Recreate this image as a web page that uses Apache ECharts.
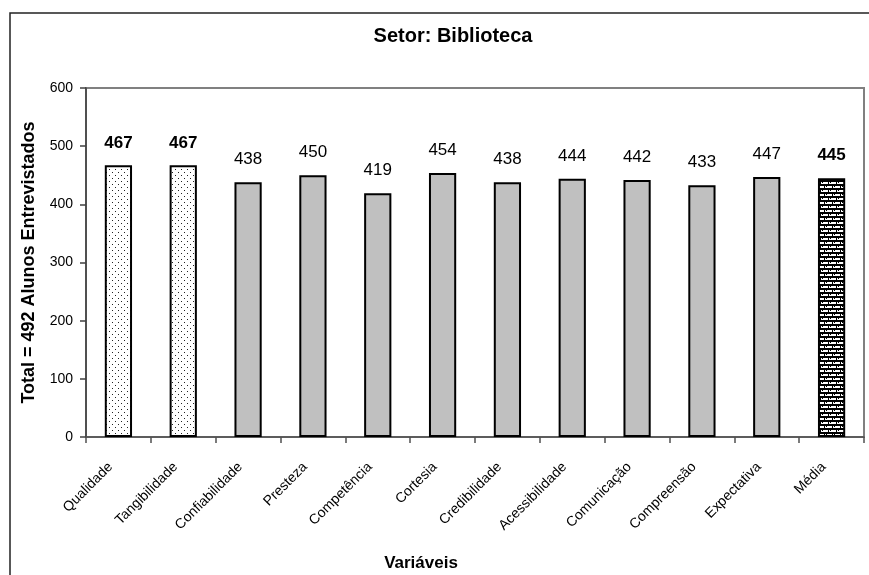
<!DOCTYPE html>
<html><head><meta charset="utf-8">
<script src="https://cdn.jsdelivr.net/npm/echarts@6/dist/echarts.min.js"></script>
<style>html,body{margin:0;padding:0;background:#fff}#c{width:869px;height:575px}</style>
</head><body><div id="c"></div>
<script>
const categories = ['Qualidade','Tangibilidade','Confiabilidade','Presteza','Competência','Cortesia','Credibilidade','Acessibilidade','Comunicação','Compreensão','Expectativa','Média'];
const values = [467,467,438,450,419,454,438,444,442,433,447,445];
const boldLabels = [true,true,false,false,false,false,false,false,false,false,false,true];
const yTicks = [0,100,200,300,400,500,600];
const FONT = 'Liberation Sans, Arial, sans-serif';

function dotPattern(){
  const c=document.createElement('canvas');c.width=6;c.height=6;
  const g=c.getContext('2d');g.fillStyle='#fff';g.fillRect(0,0,6,6);
  g.fillStyle='#222';g.fillRect(1,1,1,1);g.fillRect(4,4,1,1);
  return c;
}
function brickPattern(){
  const c=document.createElement('canvas');c.width=8;c.height=8;
  const g=c.getContext('2d');g.fillStyle='#fff';g.fillRect(0,0,8,8);
  g.fillStyle='#000';
  g.fillRect(0,0,8,2);g.fillRect(0,4,8,2);
  g.fillRect(0,2,1,2);g.fillRect(4,6,1,2);
  g.fillRect(2,2,1,1);g.fillRect(6,6,1,1);
  return c;
}
const dots={image:dotPattern(),repeat:'repeat'};
const brick={image:brickPattern(),repeat:'repeat'};

const data = values.map((v,i)=>{
  let color='#C0C0C0';
  if(i<2) color=dots;
  if(i===values.length-1) color=brick;
  return {value:v,itemStyle:{color:color},label:{fontWeight:boldLabels[i]?'bold':'normal'}};
});

const chart=echarts.init(document.getElementById('c'),null,{renderer:'canvas'});
chart.setOption({
  animation:false,
  textStyle:{fontFamily:FONT},
  title:{text:'Setor: Biblioteca',left:448,top:21,textAlign:'center',
    textStyle:{fontSize:20,fontWeight:'bold',color:'#000',fontFamily:FONT}},
  graphic:[
    {type:'rect',shape:{x:10,y:13,width:900,height:600},style:{fill:'none',stroke:'#222',lineWidth:1.5},silent:true},
    {type:'text',x:421,y:563,style:{text:'Variáveis',fill:'#000',font:'bold 17px '+FONT,textAlign:'center',textVerticalAlign:'middle'},silent:true}
  ],
  grid:{left:86,top:88,right:5,bottom:138,show:true,borderColor:'#808080',borderWidth:2,backgroundColor:'transparent'},
  xAxis:{type:'category',data:categories,
    axisLine:{lineStyle:{color:'#505050',width:1.5}},
    axisTick:{show:true,alignWithLabel:false,length:6,lineStyle:{color:'#505050',width:1.5}},
    axisLabel:{rotate:45,fontSize:14,color:'#000',margin:20,interval:0,padding:[0,11,0,0]}},
  yAxis:{type:'value',min:yTicks[0],max:yTicks[yTicks.length-1],interval:100,
    name:'Total = 492 Alunos Entrevistados',nameLocation:'middle',nameGap:48,
    nameTextStyle:{fontSize:18,fontWeight:'bold',color:'#000'},
    axisLine:{show:true,lineStyle:{color:'#404040',width:1.5}},
    axisTick:{show:true,length:6,lineStyle:{color:'#404040',width:1.5}},
    axisLabel:{fontSize:14,color:'#000',margin:13},
    splitLine:{show:false}},
  series:[{type:'bar',data:data,barWidth:'42%',
    itemStyle:{borderColor:'#000',borderWidth:2},
    label:{show:true,position:'top',distance:14,fontSize:17,color:'#000'}}]
});
</script></body></html>
